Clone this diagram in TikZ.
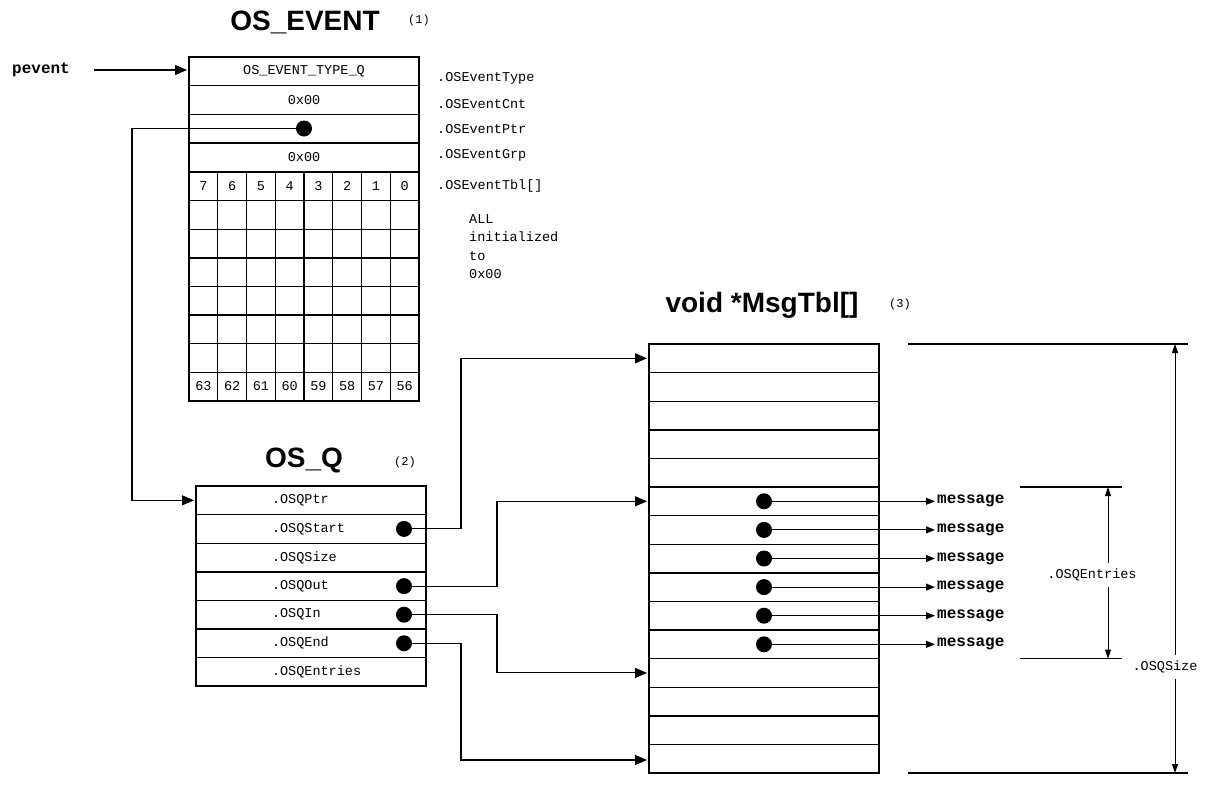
\documentclass[tikz,border=0pt]{standalone}
\usepackage{fontspec}
\setsansfont{Liberation Sans}
\setmonofont{Liberation Mono}
\usetikzlibrary{arrows.meta, positioning, calc}

\begin{document}
\begin{tikzpicture}[
  x=1pt, y=-1pt,
  every node/.style={font=\ttfamily\fontsize{13.5}{18.5}\selectfont},
  row/.style={draw, line width=1.4pt, minimum width=230pt,
              minimum height=28.6pt, inner sep=0pt, outer sep=0pt},
  qrow/.style={row, execute at begin node=\hbox to 78pt\bgroup,
               execute at end node=\hss\egroup},
  cell/.style={draw, line width=1.4pt, minimum width=28.75pt,
               minimum height=28.6pt, inner sep=0pt, outer sep=0pt},
  outline/.style={line width=2pt},
  title/.style={font=\sffamily\bfseries\fontsize{28}{30}\selectfont},
  tag/.style={font=\ttfamily\fontsize{12}{14}\selectfont},
  fld/.style={anchor=west, inner sep=0pt},
  bold/.style={font=\ttfamily\bfseries\fontsize{16}{18}\selectfont,
               anchor=west, inner sep=2pt},
  dot/.style={circle, fill, inner sep=0pt, minimum size=16pt},
  arr/.style={-{Triangle[length=12pt,width=10pt]}, line width=1.1pt,
              shorten >=2pt},
  marr/.style={-{Triangle[length=9pt,width=7pt]}, line width=1pt},
  dim/.style={-{Triangle[length=9pt,width=6pt]}, line width=0.9pt},
  dimlbl/.style={inner sep=6pt},
  ext/.style={line width=1.2pt}
]
\useasboundingbox (0,0) rectangle (1207,795);

%% OS_EVENT
\node[title] (evtitle) at (305,22) {OS\_EVENT};
\node[tag]   (evtag)   at (419,20) {(1)};

\node[row] (evtype) at (304,71.3) {OS\_EVENT\_TYPE\_Q};
\node[row, below=0pt of evtype] (evcnt) {0x00};
\node[row, below=0pt of evcnt]  (evptr) {};
\node[row, below=0pt of evptr]  (evgrp) {0x00};

% event table, 8 x 8
\foreach \c [evaluate=\c as \v using int(7-\c)] in {0,...,7}
  \node[cell] (tbl-0-\c) at ({203.4+28.75*\c},186.3) {\v};
\foreach \r in {1,...,6}
  \foreach \c in {0,...,7}
    \node[cell] (tbl-\r-\c) at ({203.4+28.75*\c},{186.3+28.6*\r}) {};
\foreach \c [evaluate=\c as \v using int(63-\c)] in {0,...,7}
  \node[cell] (tbl-7-\c) at ({203.4+28.75*\c},386.5) {\v};

\draw[outline] (evtype.north west) rectangle (tbl-7-7.south east);

\node[fld] (lbltype) at (437,78)  {.OSEventType};
\node[fld] (lblcnt)  at (437,104) {.OSEventCnt};
\node[fld] (lblptr)  at (437,129) {.OSEventPtr};
\node[fld] (lblgrp)  at (437,155) {.OSEventGrp};
\node[fld] (lbltbl)  at (437,186) {.OSEventTbl[]};
\node[fld, align=left] (allinit) at (469,246.5) {ALL\\initialized\\to\\0x00};

\node[bold] (pevent) at (10,70) {pevent};
\draw[arr, shorten <=22pt] (pevent.east) -- (pevent.east -| evtype.west);

\node[dot] (ptrdot) at (evptr) {};

%% OS_Q
\node[title] (qtitle) at (304,460) {OS\_Q};
\node[tag]   (qtag)   at (405,462) {(2)};

\node[qrow] (qptr) at (311,500.3) {.OSQPtr};
\node[qrow, below=0pt of qptr]   (qstart) {.OSQStart};
\node[qrow, below=0pt of qstart] (qsize)  {.OSQSize};
\node[qrow, below=0pt of qsize]  (qout)   {.OSQOut};
\node[qrow, below=0pt of qout]   (qin)    {.OSQIn};
\node[qrow, below=0pt of qin]    (qend)   {.OSQEnd};
\node[qrow, below=0pt of qend]   (qent)   {.OSQEntries};
\draw[outline] (qptr.north west) rectangle (qent.south east);

\node[dot] (startdot) at ([xshift=-22pt]qstart.east) {};
\node[dot] (outdot)   at ([xshift=-22pt]qout.east) {};
\node[dot] (indot)    at ([xshift=-22pt]qin.east) {};
\node[dot] (enddot)   at ([xshift=-22pt]qend.east) {};

%% void *MsgTbl[]
\node[title] (mtitle) at (762,305) {void *MsgTbl[]};
\node[tag]   (mtag)   at (900,304) {(3)};

\node[row] (m1) at (764,358.3) {};
\foreach \i [count=\j] in {2,...,15}
  \node[row, below=0pt of m\j] (m\i) {};
\draw[outline] (m1.north west) rectangle (m15.south east);

\foreach \i in {6,...,11} {
  \node[dot]  (mdot\i) at (m\i) {};
  \node[bold] (msg\i)  at ([xshift=56pt]m\i.east) {message};
  \draw[marr] (mdot\i) -- (msg\i.west);
}

%% pointers
\coordinate (busL) at (132,0);
\coordinate (busA) at (461,0);
\coordinate (busB) at (497,0);
\coordinate (pastend) at ([yshift=13pt]m15.south west);

\draw[arr] (ptrdot) -- (ptrdot -| busL) |- (qptr.west);
\draw[arr] (startdot) -- (startdot -| busA) |- (m1.west);
\draw[arr] (outdot) -- (outdot -| busB) |- (m6.west);
\draw[arr] (indot) -- (indot -| busB) |- (m12.west);
\draw[arr] (enddot) -- (enddot -| busA) |- (pastend);

%% dimensions
\coordinate (enttop) at (1108,487);
\coordinate (entbot) at (1108,658.6);
\draw[ext] (enttop) ++(-88,0) -- ++(102,0);
\draw[ext] (entbot) ++(-88,0) -- ++(102,0);
\node[dimlbl] (entlbl) at (1092,575) {.OSQEntries};
\draw[dim] (entlbl.north -| enttop) -- (enttop);
\draw[dim] (entlbl.south -| entbot) -- (entbot);

\coordinate (sztop) at (1175,344);
\coordinate (szbot) at (1175,773);
\draw[ext] (sztop) ++(-267,0) -- ++(280,0);
\draw[ext] (szbot) ++(-267,0) -- ++(280,0);
\node[dimlbl] (szlbl) at (1165,667) {.OSQSize};
\draw[dim] (szlbl.north -| sztop) -- (sztop);
\draw[dim] (szlbl.south -| szbot) -- (szbot);

\end{tikzpicture}
\end{document}
